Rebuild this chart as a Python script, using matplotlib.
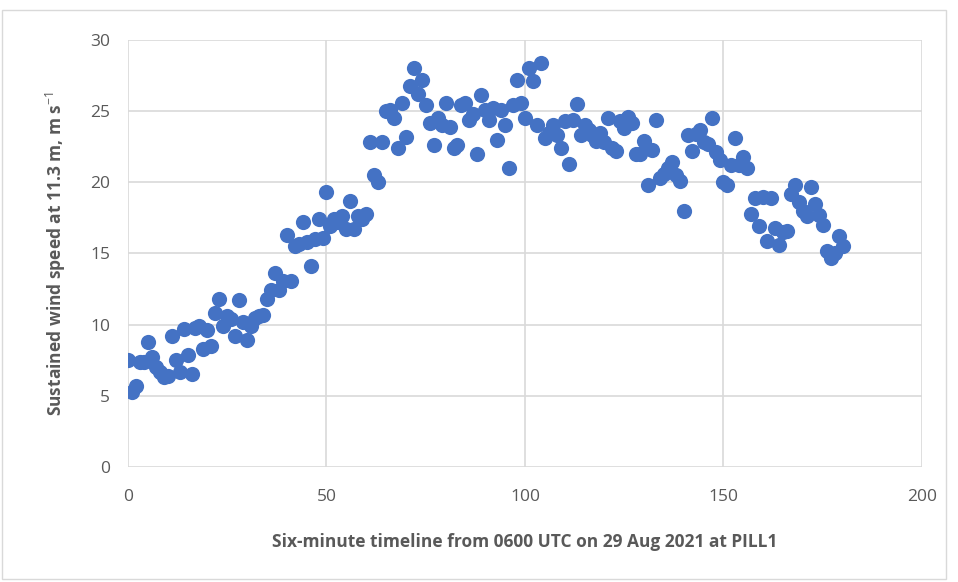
import matplotlib
matplotlib.use("Agg")
import matplotlib.pyplot as plt
from matplotlib.patches import Rectangle

timeline = list(range(0, 181))
wind_speed = [
    7.5, 5.3, 5.7, 7.4, 7.4, 8.8, 7.7, 7.0, 6.7, 6.3,
    6.4, 9.2, 7.5, 6.7, 9.7, 7.9, 6.5, 9.8, 9.9, 8.3,
    9.6, 8.5, 10.8, 11.8, 9.9, 10.6, 10.4, 9.2, 11.7, 10.2,
    8.9, 9.9, 10.5, 10.6, 10.7, 11.8, 12.4, 13.6, 12.4, 13.1,
    16.3, 13.1, 15.5, 15.7, 17.2, 15.8, 14.1, 16.0, 17.4, 16.1,
    19.3, 16.9, 17.4, 17.2, 17.6, 16.7, 18.7, 16.7, 17.6, 17.4,
    17.8, 22.8, 20.5, 20.0, 22.8, 25.0, 25.1, 24.5, 22.4, 25.6,
    23.2, 26.8, 28.0, 26.2, 27.2, 25.4, 24.2, 22.6, 24.5, 24.0,
    25.6, 23.9, 22.4, 22.6, 25.4, 25.6, 24.4, 24.8, 22.0, 26.1,
    25.1, 24.4, 25.2, 23.0, 25.1, 24.0, 21.0, 25.4, 27.2, 25.6,
    24.5, 28.0, 27.1, 24.0, 28.4, 23.1, 23.5, 24.0, 23.3, 22.4,
    24.3, 21.3, 24.4, 25.5, 23.3, 24.0, 23.7, 23.3, 22.9, 23.5,
    22.8, 24.5, 22.4, 22.2, 24.3, 23.8, 24.6, 24.2, 22.0, 22.0,
    22.9, 19.8, 22.3, 24.4, 20.3, 20.6, 21.0, 21.4, 20.5, 20.1,
    18.0, 23.3, 22.2, 23.4, 23.7, 22.8, 22.7, 24.5, 22.1, 21.6,
    20.0, 19.8, 21.2, 23.1, 21.2, 21.8, 21.0, 17.8, 18.9, 16.9,
    19.0, 15.9, 18.9, 16.8, 15.6, 16.5, 16.6, 19.2, 19.8, 18.6,
    18.0, 17.6, 19.7, 18.5, 17.7, 17.0, 15.2, 14.7, 15.0, 16.2,
    15.5,
]
x_ticks = [0, 50, 100, 150, 200]
y_ticks = [0, 5, 10, 15, 20, 25, 30]
x_label = "Six-minute timeline from 0600 UTC on 29 Aug 2021 at PILL1"
y_label = "Sustained wind speed at 11.3 m, m s$^{-1}$"

plt.rcParams['font.family'] = ['Open Sans', 'DejaVu Sans']
plt.rcParams['mathtext.fontset'] = 'custom'
plt.rcParams['mathtext.rm'] = 'Open Sans'
plt.rcParams['mathtext.bf'] = 'Open Sans:bold'

fig = plt.figure(figsize=(9.58, 5.82), dpi=100)
fig.patches.append(Rectangle((0.002, 0.005), 0.985, 0.978, transform=fig.transFigure,
                             fill=False, edgecolor='#d9d9d9', linewidth=1.0))
ax = fig.add_axes([0.1336, 0.1976, 0.8288, 0.7337])

ax.scatter(timeline, wind_speed, s=120, color='#4472C4', zorder=3, linewidths=0)

ax.set_xlim(0, 200)
ax.set_ylim(0, 30)
ax.set_xticks(x_ticks)
ax.set_yticks(y_ticks)
ax.grid(True, color='#d9d9d9', linewidth=1.2)
ax.set_axisbelow(True)
for s in ax.spines.values():
    s.set_visible(False)
ax.tick_params(length=0, labelsize=12.5, labelcolor='#595959')
ax.tick_params(axis='x', pad=16)
ax.tick_params(axis='y', pad=13)

ax.set_xlabel(x_label, fontsize=12.5, fontweight='bold', color='#595959', labelpad=20)
ax.set_ylabel(y_label, fontsize=12.5, fontweight='bold', color='#595959', labelpad=16)

fig.savefig("out.png", dpi=100)
